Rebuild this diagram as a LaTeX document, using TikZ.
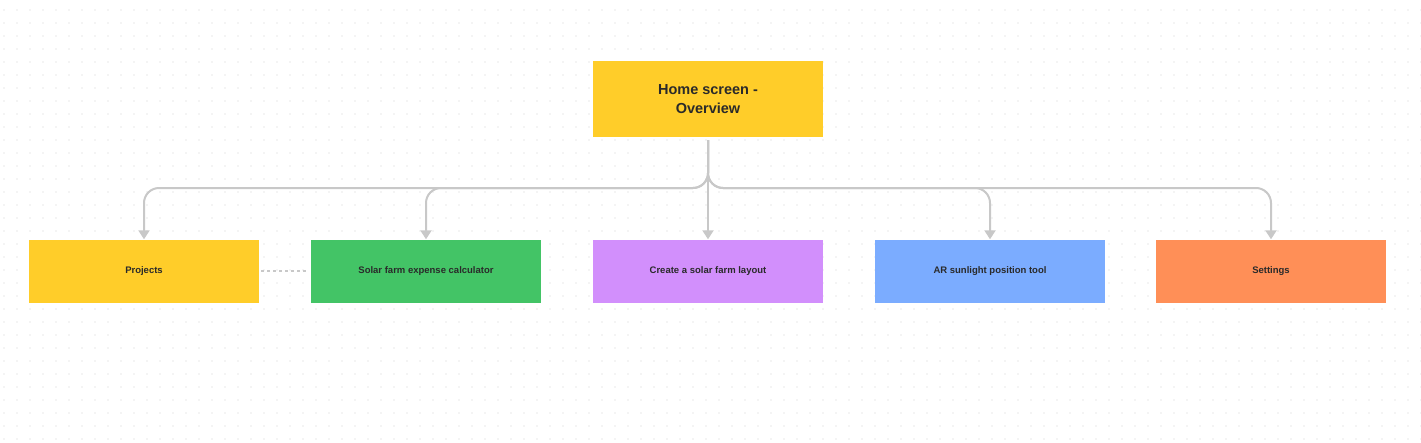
\documentclass[tikz,border=0pt]{standalone}
\usepackage{fontspec}
\setmainfont{Liberation Sans}
\usetikzlibrary{arrows.meta}
\definecolor{yel}{HTML}{FFCD29}
\definecolor{grn}{HTML}{43C466}
\definecolor{pur}{HTML}{D28FFC}
\definecolor{blu}{HTML}{7BACFF}
\definecolor{org}{HTML}{FF8F57}
\definecolor{ln}{HTML}{C8C8C8}
\definecolor{txt}{HTML}{2A2A2A}
\begin{document}
\begin{tikzpicture}[x=1pt,y=-1pt,
  card/.style={minimum width=230pt,minimum height=63pt,inner sep=0pt,text=txt,font=\fontsize{9.5}{11}\selectfont\bfseries},
  conn/.style={ln,line width=2pt,rounded corners=15pt,-{Triangle[length=9pt,width=11pt]}}]
\useasboundingbox (0,0) rectangle (1421,442);
\fill[white] (0,0) rectangle (1421,442);
\foreach \i in {0,...,109} \foreach \j in {0,...,33}
  \fill[ln!80] (4+13*\i,10+13*\j) circle (0.6pt);
\node[card,fill=yel,minimum height=76pt,font=\fontsize{14.5}{19}\selectfont\bfseries,align=center] (home) at (708,99) {Home screen -\\Overview};
\node[card,fill=yel] (p) at (144,271) {Projects};
\node[card,fill=grn] (s) at (426,271) {Solar farm expense calculator};
\node[card,fill=pur] (c) at (708,271) {Create a solar farm layout};
\node[card,fill=blu] (a) at (990,271) {AR sunlight position tool};
\node[card,fill=org] (g) at (1271,271) {Settings};
\coordinate (j) at (708,140);
\draw[ln,line width=2pt] (home.south) ++(0,3) -- (j);
\foreach \n in {p,s,a,g}
  \draw[conn] (j) -- (708,188) -- (\n.north |- 0,188) -- (\n.north);
\draw[conn] (j) -- (c.north);
\draw[ln,line width=1.5pt,dashed] (p.east) ++(2,0) -- ([xshift=-2pt]s.west);
\end{tikzpicture}
\end{document}
